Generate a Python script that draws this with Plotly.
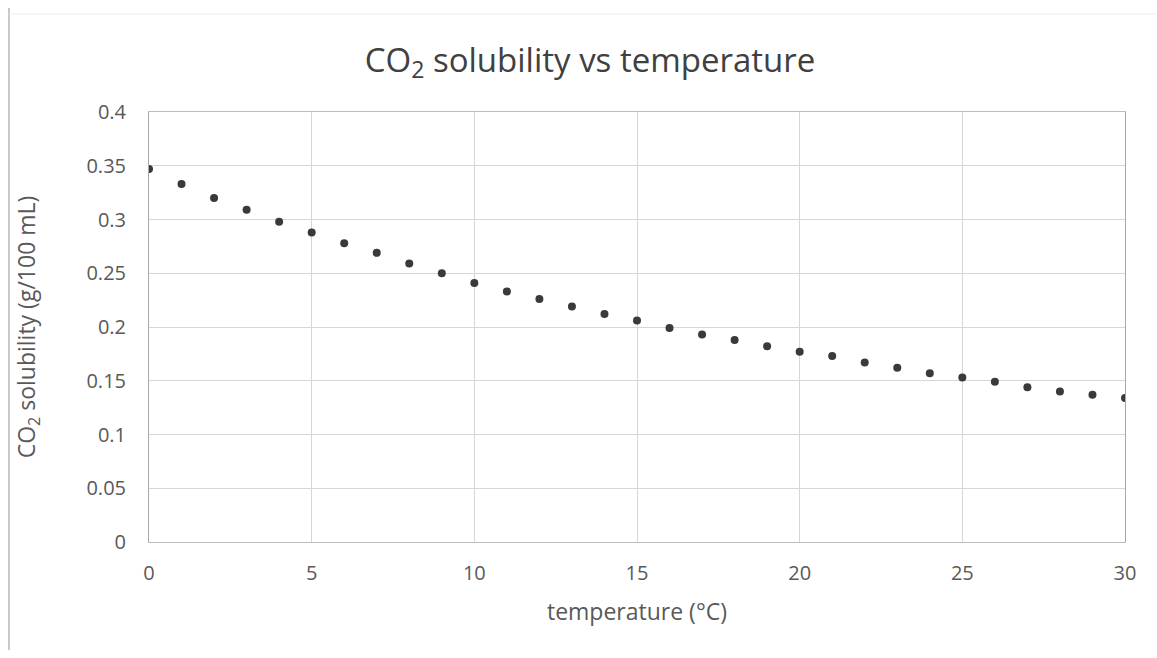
import plotly.graph_objects as go

temperature_c = list(range(0, 31))
solubility = [0.347, 0.333, 0.320, 0.309, 0.298, 0.288, 0.278, 0.269, 0.259, 0.250,
              0.241, 0.233, 0.226, 0.219, 0.212, 0.206, 0.199, 0.193, 0.188, 0.182,
              0.177, 0.173, 0.167, 0.162, 0.157, 0.153, 0.149, 0.144, 0.140, 0.137,
              0.134]
x_ticks = [0, 5, 10, 15, 20, 25, 30]
y_ticks = [0, 0.05, 0.1, 0.15, 0.2, 0.25, 0.3, 0.35, 0.4]
y_tick_labels = ["0", "0.05", "0.1", "0.15", "0.2", "0.25", "0.3", "0.35", "0.4"]

FONT = "Open Sans"
TXT = "#595959"
GRID = "#d6d6d6"

fig = go.Figure(go.Scatter(
    x=temperature_c, y=solubility, mode="markers",
    marker=dict(size=8, color="#3a3a3a"),
    showlegend=False,
))

L, R, T, B = 149, 32, 112, 116
fig.update_layout(
    width=1157, height=658,
    margin=dict(l=L, r=R, t=T, b=B),
    paper_bgcolor="white", plot_bgcolor="white",
    font=dict(family=FONT, color=TXT),
    title=dict(text="CO<sub>2</sub> solubility vs temperature",
               x=590 / 1157, xref="container", xanchor="center",
               y=1 - 60 / 658, yref="container", yanchor="middle",
               font=dict(size=33, color="#404040", family=FONT)),
    xaxis=dict(range=[0, 30], tickvals=x_ticks, ticktext=[str(v) for v in x_ticks],
               showgrid=True, gridcolor=GRID, gridwidth=1,
               showline=True, linecolor="#bdbdbd", mirror=True,
               zeroline=False, ticks="",
               tickfont=dict(size=20, color=TXT, family=FONT),
               ticklabelstandoff=13,
               title=dict(text="temperature (°C)", standoff=18,
                          font=dict(size=23, color=TXT, family=FONT))),
    yaxis=dict(range=[0, 0.4], tickvals=y_ticks, ticktext=y_tick_labels,
               showgrid=True, gridcolor=GRID, gridwidth=1,
               showline=True, linecolor="#a8a8a8", mirror=True,
               zeroline=False, ticks="",
               tickfont=dict(size=20, color=TXT, family=FONT),
               ticklabelstandoff=18,
               title=dict(text="CO<sub>2</sub> solubility (g/100 mL)", standoff=44,
                          font=dict(size=23, color=TXT, family=FONT))),
    shapes=[
        dict(type="line", xref="paper", yref="paper",
             x0=(9 - L) / 976, x1=(9 - L) / 976,
             y0=(658 - B - 8) / 430, y1=(658 - B - 650) / 430,
             line=dict(color="#c8c8c8", width=2)),
        dict(type="line", xref="paper", yref="paper",
             x0=(9 - L) / 976, x1=(1157 - L) / 976,
             y0=(658 - B - 14) / 430, y1=(658 - B - 14) / 430,
             line=dict(color="#eeeeee", width=1)),
    ],
)

fig.write_html("out.html")
